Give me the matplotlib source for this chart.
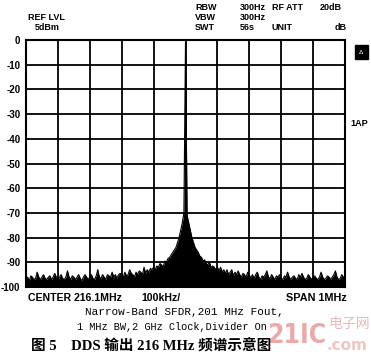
import numpy as np
import matplotlib
matplotlib.use('Agg')
import matplotlib.pyplot as plt

# spectrum trace, 5 kHz per point, -500 kHz .. +500 kHz around 216.1 MHz
level_db = [
    -97, -96, -97.5, -95.5, -96, -97, -96.5, -94, -96, -97, -96, -95, -96.5, -97, -96, -95.5, -97, -96, -94.5, -96,
    -97, -96, -95, -96.5, -97, -96, -93.5, -96, -97, -95.5, -96, -97, -96, -95, -96.5, -97.5, -96, -95, -96, -97,
    -96, -95, -96.5, -97, -95.5, -93, -96, -96.5, -95, -96, -97, -95, -95.5, -96, -94, -96, -95, -96.5, -95, -94.5,
    -95, -96, -94, -95.5, -95, -93, -94.5, -95, -96, -94, -95, -93.5, -94, -95, -92, -94.5, -93, -94, -92.5, -93,
    -92, -93, -91.5, -92, -90.5, -91, -92, -89.5, -90, -88.5, -88, -87, -86, -85, -84, -82, -80, -77, -74, -70,
    -1,
    -71, -74, -77, -80, -82, -84, -85, -86, -87.5, -88, -89.5, -89, -90.5, -91, -90, -92, -91.5, -92, -93, -92,
    -93.5, -92, -94, -93, -94.5, -93, -95, -94, -93, -95.5, -94, -95, -93.5, -95, -96, -94.5, -95, -96, -94, -95.5,
    -96, -95, -96.5, -95, -94, -96, -97, -95.5, -96, -95, -93.5, -96, -96.5, -95, -96, -97, -95.5, -96, -95, -96.5,
    -97, -95.5, -96, -94, -96, -97, -96, -95.5, -96.5, -97, -95, -96, -94.5, -96, -97, -96.5, -95, -96, -97, -96,
    -95.5, -96.5, -97, -96, -94, -96, -97, -96.5, -95.5, -96, -97, -96, -95, -93.5, -96, -97, -96.5, -95, -96, -97,
]
freq_khz = np.linspace(-500, 500, len(level_db))

y_ticks = [0, -10, -20, -30, -40, -50, -60, -70, -80, -90, -100]
x_grid = [-500, -400, -300, -200, -100, 0, 100, 200, 300, 400, 500]

W, H = 371, 357
fig = plt.figure(figsize=(W / 100, H / 100), dpi=100)
fig.patch.set_facecolor('white')

ax = fig.add_axes([26 / W, 1 - 287 / H, 319 / W, 247 / H])
ax.fill_between(freq_khz, level_db, -100, color='black', lw=0)
ax.plot(freq_khz, level_db, color='black', lw=0.8)
ax.set_xlim(-500, 500)
ax.set_ylim(-100, 0)
ax.set_xticks(x_grid)
ax.set_yticks(y_ticks)
ax.set_xticklabels([])
ax.set_yticklabels(['%d' % v for v in y_ticks], fontsize=7, fontweight='bold', family='Liberation Sans')
ax.tick_params(length=0, pad=4)
ax.grid(True, color='black', lw=1.3)
for s in ax.spines.values():
    s.set_linewidth(1.5)


def txt(x, y, s, **kw):
    kw.setdefault('fontsize', 6.5)
    kw.setdefault('fontweight', 'bold')
    kw.setdefault('family', 'Liberation Sans')
    kw.setdefault('va', 'center')
    fig.text(x / W, 1 - y / H, s, **kw)


# header
txt(28, 17, 'REF LVL')
txt(35, 28, '5dBm')
txt(195, 7, 'RBW')
txt(195, 17, 'VBW')
txt(195, 28, 'SWT')
txt(240, 7, '300Hz')
txt(240, 17, '300Hz')
txt(240, 28, '56s')
txt(272, 7, 'RF ATT')
txt(272, 28, 'UNIT')
txt(320, 7, '20dB')
txt(347, 28, 'dB', ha='right')

# right side marks
fig.text(361 / W, 1 - 52 / H, 'Δ', fontsize=4.5, color='white', ha='center', va='center',
         bbox=dict(boxstyle='square,pad=0.7', fc='black', ec='black'))
txt(350, 123, '1AP')

# bottom labels
txt(28, 298, 'CENTER 216.1MHz', fontsize=7.6)
txt(161, 298, '100kHz/', fontsize=7.6, ha='center')
txt(347, 298, 'SPAN 1MHz', fontsize=7.8, ha='right')

# caption
txt(184, 312, 'Narrow-Band SFDR,201 MHz Fout,', fontsize=7.9, fontweight='normal',
    family='Liberation Mono', ha='center')
txt(172, 327, '1 MHz BW,2 GHz Clock,Divider On', fontsize=7.4, fontweight='normal',
    family='Liberation Mono', ha='center')

# watermark
txt(267, 336, '21IC', fontsize=19, color='#e07070', alpha=0.6, family='DejaVu Sans',
    fontstretch='condensed')
txt(328, 324, '电子网', fontsize=10, fontweight='normal', color='#e08a8a', alpha=0.6,
    family=['Noto Sans CJK SC', 'DejaVu Sans'])
txt(327, 345, '.com', fontsize=11, color='#e08a8a', alpha=0.5, family='DejaVu Sans')

txt(151, 346, '图 5    DDS 输出 216 MHz 频谱示意图', fontsize=10.5, ha='center',
    family=['Liberation Serif', 'Noto Sans CJK SC'])

fig.savefig('out.png', dpi=100)
